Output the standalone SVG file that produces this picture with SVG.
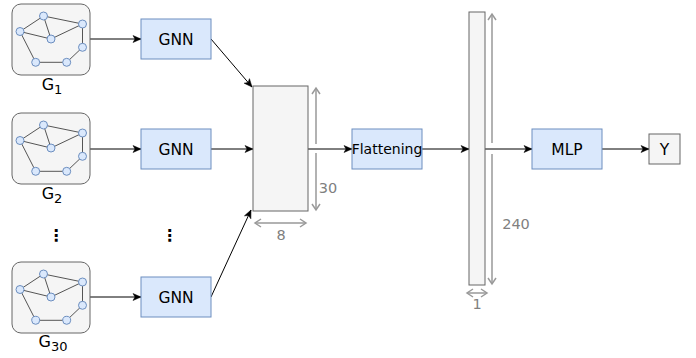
<svg xmlns="http://www.w3.org/2000/svg" width="696" height="358" viewBox="0 0 696 358">
<style>
.gbox{fill:#f5f5f5;stroke:#666;stroke-width:1}
.ge{stroke:#555;stroke-width:1;fill:none}
.gn{fill:#dae8fc;stroke:#6c8ebf;stroke-width:1}
.blue{fill:#dae8fc;stroke:#6c8ebf;stroke-width:1}
.grey{fill:#f5f5f5;stroke:#666;stroke-width:1}
.t{font-family:"DejaVu Sans",sans-serif;font-size:15.5px;fill:#000;text-anchor:middle}
.tf{font-family:"DejaVu Sans",sans-serif;font-size:14px;fill:#000;text-anchor:middle}
.lbl{font-family:"DejaVu Sans",sans-serif;font-size:16px;fill:#000;text-anchor:middle}
.dim{stroke:#999;stroke-width:1.5;fill:none}
.dt{font-family:"DejaVu Sans",sans-serif;font-size:14.5px;fill:#808080;text-anchor:middle}
.c{stroke:#000;stroke-width:1;fill:none;marker-end:url(#arr)}
.dots{font-family:"DejaVu Sans",sans-serif;font-size:16px;font-weight:bold;fill:#000;text-anchor:middle}
</style>
<defs>
<marker id="arr" markerUnits="userSpaceOnUse" markerWidth="10" markerHeight="8" refX="8" refY="3.5" orient="auto" overflow="visible">
<path d="M0,0 L8,3.5 L0,7 L2,3.5 z" fill="#000" stroke="#000" stroke-width="0.5"/>
</marker>
<marker id="dimA" markerUnits="userSpaceOnUse" markerWidth="10" markerHeight="10" refX="6" refY="4" orient="auto-start-reverse" overflow="visible">
<path d="M0,0 L6,4 L0,8" fill="none" stroke="#999" stroke-width="1.5"/>
</marker>
<g id="graphShape">
<rect class="gbox" x="0" y="0" width="78" height="71" rx="9"/>
<path class="ge" d="M31.5,12 L8,27.5 M31.5,12 L39,35 M31.5,12 L70.5,20 M8,27.5 L39,35 M39,35 L70.5,20 M70.5,20 L70.5,43.3 M8,27.5 L23.7,58.3 L54.7,58.3 L70.5,43.3"/>
<circle class="gn" cx="31.5" cy="12" r="4"/>
<circle class="gn" cx="8" cy="27.5" r="4"/>
<circle class="gn" cx="39" cy="35" r="4"/>
<circle class="gn" cx="70.5" cy="20" r="4"/>
<circle class="gn" cx="70.5" cy="43.3" r="4"/>
<circle class="gn" cx="23.7" cy="58.3" r="4"/>
<circle class="gn" cx="54.7" cy="58.3" r="4"/>
</g>
</defs>

<g id="connectors">
<line class="c" x1="90" y1="39" x2="141" y2="39"/>
<line class="c" x1="90" y1="149" x2="141" y2="149"/>
<line class="c" x1="90" y1="297" x2="141" y2="297"/>
<line class="c" x1="211" y1="39" x2="252" y2="87"/>
<line class="c" x1="211" y1="149" x2="253" y2="149"/>
<line class="c" x1="211" y1="297" x2="251" y2="210"/>
<line class="c" x1="308" y1="149" x2="352" y2="149"/>
<line class="c" x1="422" y1="149" x2="469" y2="149"/>
<line class="c" x1="485" y1="149" x2="532" y2="149"/>
<line class="c" x1="602" y1="149" x2="649" y2="149"/>
</g>

<g id="graph1">
<use href="#graphShape" x="12" y="4"/>
<text class="lbl" x="52" y="90">G<tspan font-size="13" dy="4">1</tspan></text>
</g>
<g id="graph2">
<use href="#graphShape" x="12" y="113"/>
<text class="lbl" x="52" y="199">G<tspan font-size="13" dy="4">2</tspan></text>
</g>
<g id="graph30">
<use href="#graphShape" x="12" y="262"/>
<text class="lbl" x="53" y="347">G<tspan font-size="13" dy="4">30</tspan></text>
</g>

<g id="dots1"><text class="dots" x="56" y="241">⋮</text></g>
<g id="dots2"><text class="dots" x="169.5" y="241">⋮</text></g>

<g id="gnn1">
<rect class="blue" x="141" y="19" width="70" height="40"/>
<text class="t" x="176" y="44.5">GNN</text>
</g>
<g id="gnn2">
<rect class="blue" x="141" y="129" width="70" height="40"/>
<text class="t" x="176" y="154.5">GNN</text>
</g>
<g id="gnn30">
<rect class="blue" x="141" y="277" width="70" height="40"/>
<text class="t" x="176" y="302.5">GNN</text>
</g>

<g id="matrix">
<rect class="grey" x="253" y="86" width="55" height="125"/>
<line class="dim" x1="316" y1="144" x2="316" y2="88" marker-end="url(#dimA)"/>
<line class="dim" x1="316" y1="153" x2="316" y2="210" marker-end="url(#dimA)"/>
<text class="dt" x="328" y="193">30</text>
<line class="dim" x1="255" y1="223" x2="306" y2="223" marker-start="url(#dimA)" marker-end="url(#dimA)"/>
<text class="dt" x="281" y="240">8</text>
</g>

<g id="flatten">
<rect class="blue" x="352" y="129" width="70" height="40"/>
<text class="tf" x="387" y="154">Flattening</text>
</g>

<g id="vector">
<rect class="grey" x="469" y="12" width="16" height="273"/>
<line class="dim" x1="492" y1="143" x2="492" y2="14" marker-end="url(#dimA)"/>
<line class="dim" x1="492" y1="154" x2="492" y2="284" marker-end="url(#dimA)"/>
<text class="dt" x="516" y="229">240</text>
<line class="dim" x1="467" y1="293" x2="487" y2="293" marker-start="url(#dimA)" marker-end="url(#dimA)"/>
<text class="dt" x="477" y="309">1</text>
</g>

<g id="mlp">
<rect class="blue" x="532" y="129" width="70" height="40"/>
<text class="t" x="567" y="154.5">MLP</text>
</g>

<g id="output">
<rect class="grey" x="649" y="134" width="31" height="30"/>
<text class="t" x="664.5" y="154.5">Y</text>
</g>
</svg>
